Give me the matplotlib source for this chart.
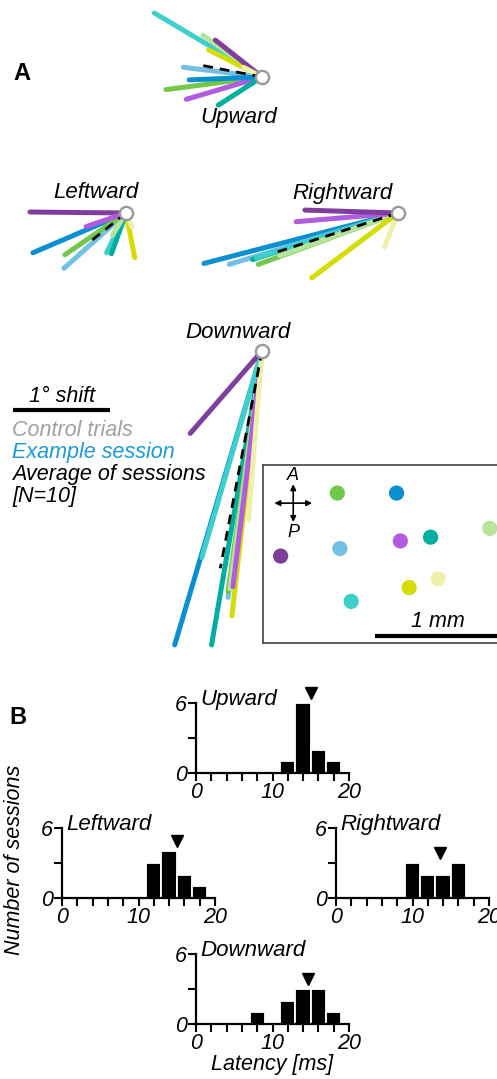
import numpy as np
import matplotlib
matplotlib.use("Agg")
import matplotlib.pyplot as plt

plt.rcParams["font.family"] = ["Liberation Sans", "DejaVu Sans"]
plt.rcParams["font.style"] = "italic"

W, H = 497, 1079
PX_PER_DEG = 97.0
PX_PER_MM = 126.0

# session colours (10 sessions)
colors = ["#7E3F9C", "#B05BE0", "#0A8FD0", "#74C0E4", "#3CCFCB",
          "#00AF9F", "#72C84A", "#B8E39A", "#D4DC00", "#EEF0A8"]

# shift vectors per session, degrees (x right, y up)
up_dx = [-0.48, -0.78, -0.75, -0.81, -1.11, -0.45, -0.99, -0.61, -0.55, -0.19]
up_dy = [0.38, -0.23, -0.03, 0.10, 0.66, -0.29, -0.13, 0.43, 0.28, 0.10]
left_dx = [-0.99, -0.41, -0.96, -0.64, -0.20, -0.15, -0.63, -0.14, 0.09, 0.06]
left_dy = [0.01, -0.14, -0.41, -0.57, -0.41, -0.42, -0.43, -0.23, -0.46, -0.14]
right_dx = [-0.96, -1.05, -2.00, -1.74, -1.46, -1.50, -1.44, -1.22, -0.89, -0.14]
right_dy = [0.03, -0.09, -0.52, -0.53, -0.46, -0.48, -0.53, -0.44, -0.67, -0.35]
down_dx = [-0.74, -0.30, -0.90, -0.35, -0.62, -0.52, -0.35, -0.33, -0.31, -0.14]
down_dy = [-0.85, -2.43, -3.03, -2.54, -2.13, -3.03, -2.48, -2.45, -2.73, -1.74]

# average across sessions
avg_dx = {"Upward": -0.62, "Leftward": -0.40, "Rightward": -1.24, "Downward": -0.43}
avg_dy = {"Upward": 0.12, "Leftward": -0.32, "Rightward": -0.40, "Downward": -2.24}

# recording sites (mm)
site_x = [0.14, 1.09, 1.06, 0.61, 0.70, 1.33, 0.59, 1.80, 1.16, 1.39]
site_y = [0.69, 0.81, 1.19, 0.75, 0.33, 0.84, 1.19, 0.91, 0.44, 0.51]

# latency histograms (bin centres in ms, counts) and mean markers
hist_bins = {
    "Upward": [12, 14, 16, 18],
    "Leftward": [12, 14, 16, 18],
    "Rightward": [10, 12, 14, 16],
    "Downward": [8, 12, 14, 16, 18],
}
hist_counts = {
    "Upward": [1, 6, 2, 1],
    "Leftward": [3, 4, 2, 1],
    "Rightward": [3, 2, 2, 3],
    "Downward": [1, 2, 3, 3, 1],
}
hist_mean = {"Upward": 15.0, "Leftward": 15.0, "Rightward": 13.6, "Downward": 14.6}

FS = 15.5

fig = plt.figure(figsize=(W / 100, H / 100), dpi=100)

# ---- panel A: pixel-space canvas ----
ax = fig.add_axes([0, 0, 1, 1])
ax.set_xlim(0, W)
ax.set_ylim(H, 0)
ax.axis("off")

fans = {
    "Upward": ((262, 77), up_dx, up_dy, (239, 117)),
    "Leftward": ((126, 213), left_dx, left_dy, (96, 193)),
    "Rightward": ((398, 213), right_dx, right_dy, (342, 193)),
    "Downward": ((262, 351), down_dx, down_dy, (238, 333)),
}
for name, (ctr, dxs, dys, lab) in fans.items():
    cx, cy = ctr
    dxs = np.array(dxs)
    dys = np.array(dys)
    order = np.argsort(-np.hypot(dxs, dys))
    for i in order:
        ax.plot([cx, cx + dxs[i] * PX_PER_DEG], [cy, cy - dys[i] * PX_PER_DEG],
                color=colors[i], lw=3.6, solid_capstyle="round", zorder=2)
    ax.plot([cx, cx + avg_dx[name] * PX_PER_DEG], [cy, cy - avg_dy[name] * PX_PER_DEG],
            color="black", lw=2.0, dashes=(3.5, 2.5), zorder=3)
    ax.plot(cx, cy, "o", ms=9.5, mfc="white", mec="#999999", mew=1.7, zorder=4)
    ax.text(lab[0], lab[1], name, ha="center", va="center", fontsize=FS + 0.5)

ax.text(22, 74, "A", ha="center", va="center", fontsize=17, fontweight="bold", fontstyle="normal")
ax.text(18, 717, "B", ha="center", va="center", fontsize=17, fontweight="bold", fontstyle="normal")

# scale bar + legend
ax.plot([13, 13 + PX_PER_DEG], [410, 410], color="black", lw=3, solid_capstyle="butt")
ax.text(62, 396, "1\u00b0 shift", ha="center", va="center", fontsize=FS)
legend_items = [("Control trials", "#A0A0A0"), ("Example session", "#1A9BD7"),
                ("Average of sessions", "black"), ("[N=10]", "black")]
for k, (txt, col) in enumerate(legend_items):
    ax.text(12, 431 + k * 21.7, txt, color=col, ha="left", va="center", fontsize=FS)

# inset of recording sites
ins = fig.add_axes([263 / W, (H - 643) / H, 245 / W, 178 / H])
ins.set_xlim(0, 245 / PX_PER_MM)
ins.set_ylim(0, 178 / PX_PER_MM)
ins.set_xticks([])
ins.set_yticks([])
for s in ins.spines.values():
    s.set_color("#444444")
    s.set_linewidth(1.2)
ins.scatter(site_x, site_y, s=120, c=colors, edgecolors="none", zorder=3)
cxm, cym, arm = 0.24, 1.11, 0.15
for ddx, ddy in [(1, 0), (-1, 0), (0, 1), (0, -1)]:
    ins.annotate("", xy=(cxm + ddx * arm, cym + ddy * arm), xytext=(cxm, cym),
                 arrowprops=dict(arrowstyle="-|>", color="black", lw=1.2,
                                 mutation_scale=8, shrinkA=0, shrinkB=0))
ins.text(cxm, cym + 0.22, "A", ha="center", va="center", fontsize=13)
ins.text(cxm, cym - 0.23, "P", ha="center", va="center", fontsize=13)
ins.plot([0.89, 1.89], [0.056, 0.056], color="black", lw=3, solid_capstyle="butt")
ins.text(1.39, 0.17, "1 mm", ha="center", va="center", fontsize=FS)

# ---- panel B: histograms ----
hist_pos = {
    "Upward": (196, 773),
    "Leftward": (62, 898),
    "Rightward": (336, 898),
    "Downward": (196, 1024),
}
HW, HH = 153, 70
for name, (x0, y0) in hist_pos.items():
    h = fig.add_axes([x0 / W, (H - y0) / H, HW / W, HH / H])
    h.bar(hist_bins[name], hist_counts[name], width=2, color="black",
          edgecolor="white", linewidth=1.3, zorder=2)
    h.plot(hist_mean[name], max(hist_counts[name]) + 0.85, marker="v", ms=9,
           color="black", clip_on=False, zorder=5)
    h.set_xlim(0, 20)
    h.set_ylim(0, 6)
    for sp in ["top", "right"]:
        h.spines[sp].set_visible(False)
    for sp in ["left", "bottom"]:
        h.spines[sp].set_linewidth(1.6)
    h.set_xticks([0, 10, 20])
    h.set_xticklabels(["0", "10", "20"])
    h.set_xticks(np.arange(0, 21, 2), minor=True)
    h.set_yticks([0, 3, 6])
    h.set_yticklabels(["0", "", "6"])
    h.tick_params(which="both", direction="out", length=5.5, width=1.5, labelsize=FS, pad=1)
    h.text(0.6, 6.3, name, ha="left", va="center", fontsize=FS + 0.5, clip_on=False)
    h.patch.set_alpha(0)
    if name == "Downward":
        h.set_xlabel("Latency [ms]", fontsize=FS, labelpad=0)

fig.text(15 / W, 1 - 860 / H, "Number of sessions", rotation=90, ha="center",
         va="center", fontsize=FS)

fig.savefig("out.png", dpi=100)
